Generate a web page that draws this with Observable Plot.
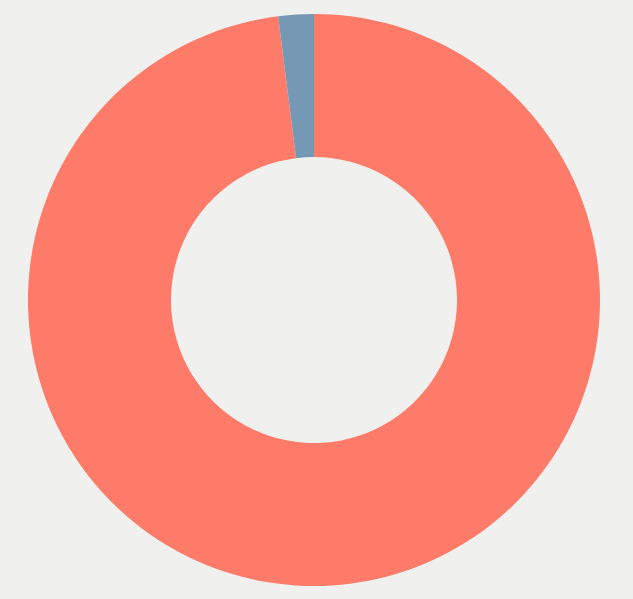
<!DOCTYPE html>
<html>
<head>
<meta charset="utf-8">
<script src="https://cdn.jsdelivr.net/npm/d3@7"></script>
<script src="https://cdn.jsdelivr.net/npm/@observablehq/plot@0.6"></script>
<style>
  html, body { margin: 0; padding: 0; background: #f0f1ef; }
  #chart { width: 633px; height: 599px; }
</style>
</head>
<body>
<div id="chart"></div>
<script>
const categories = ["A", "B"];
const values = [98, 2];
const colors = ["#ff7b69", "#7598b5"];

const data = categories.map((c, i) => ({category: c, value: values[i]}));

const W = 633, H = 599;
const cx = 314, cy = 300, outerR = 286, innerR = 143;

const pie = d3.pie().value(d => d.value).sort(null)
  .startAngle(0).endAngle(2 * Math.PI);
const arcs = pie(data);

const chart = Plot.plot({
  width: W,
  height: H,
  margin: 0,
  style: {background: "#f0f1ef"},
  color: {domain: categories, range: colors},
  marks: [
    Plot.dot(arcs, {
      x: () => 0, y: () => 0,
      fill: d => d.data.category,
      render(index, scales, values, dimensions, context) {
        const g = d3.create("svg:g");
        const arcGen = d3.arc().innerRadius(innerR).outerRadius(outerR);
        for (const i of index) {
          g.append("path")
            .attr("transform", `translate(${cx},${cy})`)
            .attr("d", arcGen(arcs[i]))
            .attr("fill", values.fill[i])
            .attr("stroke", "none");
        }
        return g.node();
      }
    })
  ],
  x: {axis: null},
  y: {axis: null}
});
document.getElementById("chart").append(chart);
</script>
</body>
</html>
